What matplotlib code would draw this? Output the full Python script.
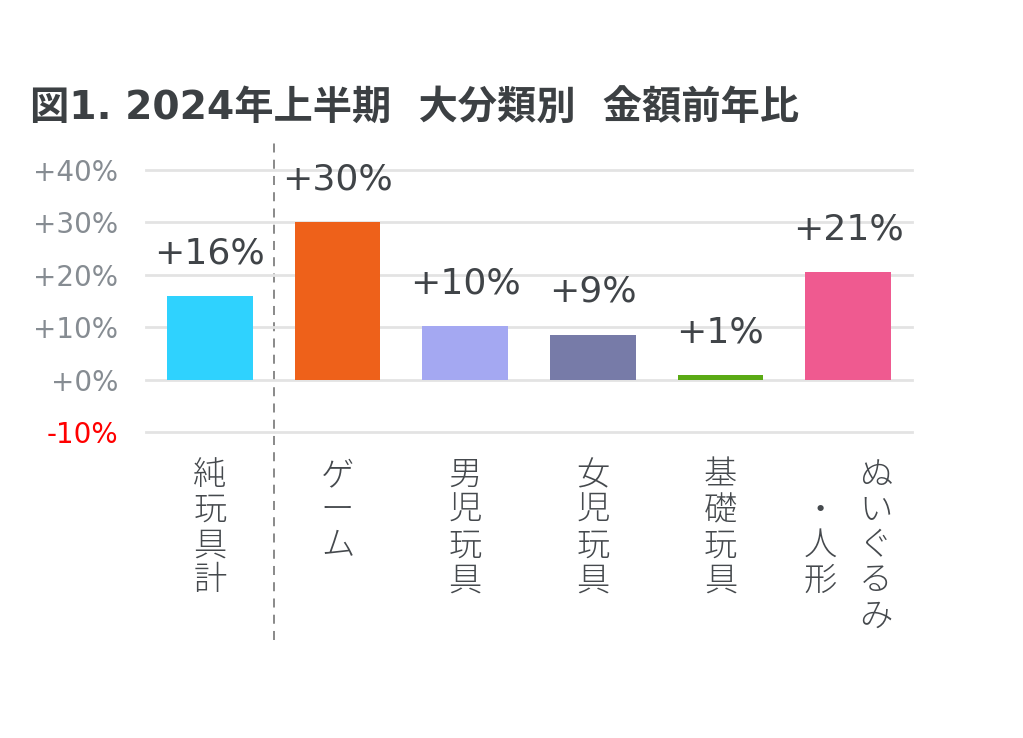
import matplotlib
matplotlib.use("Agg")
from matplotlib import pyplot as plt
from matplotlib import transforms

plt.rcParams['font.family'] = ['DejaVu Sans', 'Noto Sans CJK JP']

# データ（前年比 %）
categories = ['純玩具計', 'ゲーム', '男児玩具', '女児玩具', '基礎玩具', 'ぬいぐるみ・人形']
label_columns = [['純玩具計'], ['ゲーム'], ['男児玩具'], ['女児玩具'], ['基礎玩具'],
                 ['ぬいぐるみ', ' ・人形']]
values = [15.9, 30.1, 10.3, 8.6, 0.9, 20.6]
value_labels = ['+16%', '+30%', '+10%', '+9%', '+1%', '+21%']
colors = ['#2FD2FE', '#EE611A', '#A4A8F2', '#777BA8', '#5AAA14', '#EF5A90']
yticks = [-10, 0, 10, 20, 30, 40]
ytick_labels = ['-10%', '+0%', '+10%', '+20%', '+30%', '+40%']

fig = plt.figure(figsize=(10.23, 7.38), dpi=100)
ax = fig.add_axes([0.1427, 0.4146, 0.7488, 0.3550])

x = list(range(len(categories)))
ax.bar(x, values, width=0.67, color=colors, zorder=3)

ax.set_xlim(-0.5, len(categories) - 0.5)
ax.set_ylim(-10, 40)
ax.set_yticks(yticks)
ax.set_yticklabels(ytick_labels, fontsize=20, color='#868C92')
ax.get_yticklabels()[0].set_color('#FF0000')
ax.tick_params(axis='y', length=0, pad=20)
ax.set_xticks([])
ax.grid(axis='y', color='#E3E3E3', linewidth=2, zorder=0)
for gl in ax.get_ygridlines():
    gl.set_clip_on(False)
for s in ax.spines.values():
    s.set_visible(False)

# 値ラベル
for xi, v, lab in zip(x, values, value_labels):
    ax.annotate(lab, xy=(xi, v), xytext=(0, 23.5), textcoords='offset points',
                ha='center', va='baseline', fontsize=26, color='#404448')

# 縦書きのカテゴリラベル
trans = transforms.blended_transform_factory(ax.transData, ax.transAxes)
pitch = 25.3  # pt
for xi, cols in zip(x, label_columns):
    n = len(cols)
    for j, col in enumerate(cols):
        dx = (n - 1) * 20 - j * 40  # pt, columns right to left
        for i, ch in enumerate(col):
            if ch == ' ':
                continue
            ax.annotate(ch, xy=(xi, 0), xycoords=trans,
                        xytext=(dx, -19 - i * pitch), textcoords='offset points',
                        ha='center', va='top', fontsize=24, color='#45494D',
                        family=['Noto Sans CJK JP'], fontweight='light')

# 区切りの破線
ax.axvline(0.5, ymin=-0.794, ymax=1.115, color='#808080', linewidth=1.3,
           linestyle=(0, (5, 4)), clip_on=False, zorder=1)

fig.text(0.029, 0.853, '図1. 2024年上半期  大分類別  金額前年比', fontsize=28.3,
         fontweight='bold', color='#3C4043', va='center', ha='left',
         family=['DejaVu Sans', 'Noto Sans CJK JP'])

fig.savefig('out.png', dpi=100)
